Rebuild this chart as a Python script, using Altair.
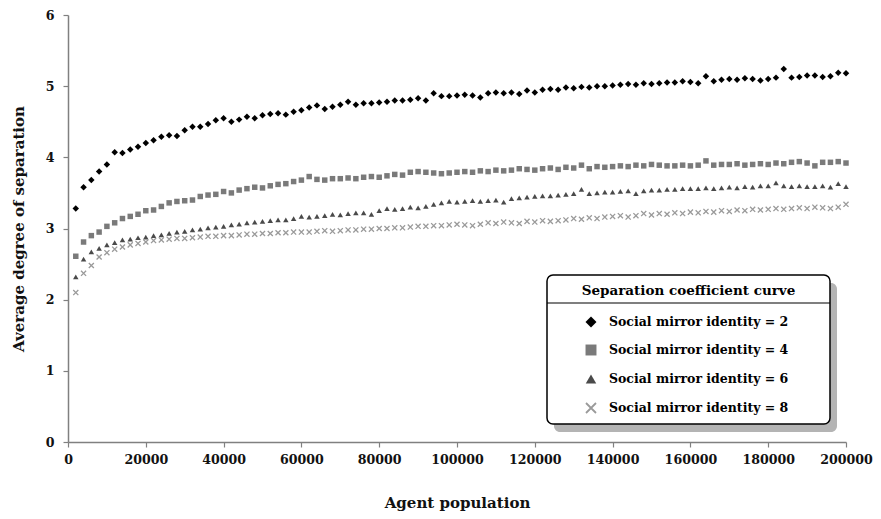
import altair as alt
import pandas as pd

population = list(range(2000, 200001, 2000))

identity_2 = [3.28, 3.58, 3.68, 3.80, 3.90, 4.07, 4.06, 4.11, 4.15, 4.20,
              4.24, 4.29, 4.31, 4.30, 4.38, 4.43, 4.43, 4.47, 4.52, 4.55,
              4.50, 4.53, 4.57, 4.55, 4.59, 4.61, 4.62, 4.60, 4.64, 4.66,
              4.70, 4.73, 4.68, 4.71, 4.74, 4.78, 4.74, 4.76, 4.76, 4.77,
              4.78, 4.80, 4.80, 4.81, 4.83, 4.80, 4.90, 4.86, 4.86, 4.87,
              4.88, 4.87, 4.84, 4.90, 4.91, 4.90, 4.91, 4.89, 4.94, 4.91,
              4.95, 4.96, 4.95, 4.98, 4.97, 4.99, 4.98, 5.00, 5.00, 5.01,
              5.02, 5.03, 5.02, 5.04, 5.03, 5.04, 5.05, 5.05, 5.07, 5.06,
              5.04, 5.14, 5.07, 5.09, 5.10, 5.09, 5.11, 5.10, 5.08, 5.10,
              5.12, 5.24, 5.12, 5.13, 5.15, 5.15, 5.13, 5.14, 5.19, 5.18]

identity_4 = [2.61, 2.81, 2.90, 2.95, 3.03, 3.08, 3.14, 3.17, 3.20, 3.25,
              3.26, 3.31, 3.36, 3.38, 3.39, 3.40, 3.45, 3.47, 3.48, 3.52,
              3.50, 3.54, 3.56, 3.58, 3.57, 3.60, 3.62, 3.63, 3.66, 3.68,
              3.73, 3.69, 3.68, 3.70, 3.70, 3.71, 3.70, 3.72, 3.73, 3.72,
              3.74, 3.76, 3.75, 3.79, 3.80, 3.79, 3.78, 3.77, 3.78, 3.79,
              3.80, 3.79, 3.81, 3.80, 3.82, 3.81, 3.82, 3.84, 3.83, 3.82,
              3.84, 3.85, 3.83, 3.86, 3.85, 3.89, 3.84, 3.87, 3.86, 3.87,
              3.88, 3.87, 3.89, 3.88, 3.90, 3.89, 3.88, 3.88, 3.89, 3.88,
              3.89, 3.95, 3.89, 3.90, 3.90, 3.91, 3.89, 3.90, 3.91, 3.90,
              3.92, 3.91, 3.93, 3.94, 3.92, 3.88, 3.93, 3.93, 3.94, 3.92]

identity_6 = [2.32, 2.57, 2.67, 2.72, 2.77, 2.80, 2.84, 2.85, 2.87, 2.88,
              2.90, 2.91, 2.93, 2.95, 2.96, 2.98, 2.99, 3.01, 3.02, 3.03,
              3.05, 3.06, 3.08, 3.09, 3.10, 3.11, 3.12, 3.12, 3.14, 3.17,
              3.16, 3.17, 3.18, 3.20, 3.19, 3.21, 3.22, 3.22, 3.20, 3.25,
              3.28, 3.27, 3.28, 3.30, 3.29, 3.31, 3.34, 3.36, 3.38, 3.37,
              3.38, 3.39, 3.38, 3.39, 3.40, 3.37, 3.42, 3.43, 3.44, 3.45,
              3.46, 3.46, 3.47, 3.48, 3.49, 3.55, 3.49, 3.50, 3.51, 3.51,
              3.52, 3.53, 3.49, 3.53, 3.54, 3.54, 3.55, 3.55, 3.56, 3.56,
              3.56, 3.57, 3.56, 3.57, 3.58, 3.57, 3.59, 3.58, 3.60, 3.60,
              3.64, 3.60, 3.59, 3.60, 3.59, 3.59, 3.60, 3.58, 3.63, 3.59]

identity_8 = [2.10, 2.37, 2.48, 2.60, 2.66, 2.71, 2.74, 2.77, 2.79, 2.81,
              2.83, 2.84, 2.85, 2.86, 2.86, 2.87, 2.88, 2.89, 2.89, 2.90,
              2.90, 2.91, 2.92, 2.92, 2.93, 2.93, 2.94, 2.94, 2.95, 2.95,
              2.95, 2.96, 2.97, 2.96, 2.97, 2.98, 2.98, 2.99, 2.99, 3.00,
              3.00, 3.01, 3.01, 3.02, 3.03, 3.03, 3.04, 3.04, 3.05, 3.06,
              3.05, 3.04, 3.06, 3.08, 3.07, 3.09, 3.08, 3.07, 3.10, 3.09,
              3.11, 3.10, 3.11, 3.12, 3.14, 3.13, 3.15, 3.14, 3.16, 3.17,
              3.18, 3.16, 3.18, 3.21, 3.19, 3.21, 3.20, 3.22, 3.21, 3.23,
              3.22, 3.24, 3.23, 3.25, 3.24, 3.26, 3.25, 3.27, 3.26, 3.27,
              3.28, 3.27, 3.28, 3.29, 3.28, 3.30, 3.29, 3.28, 3.30, 3.34]

series_labels = ["Social mirror identity = 2", "Social mirror identity = 4",
                 "Social mirror identity = 6", "Social mirror identity = 8"]
x_ticks = list(range(0, 200001, 20000))
y_ticks = [0, 1, 2, 3, 4, 5, 6]

FONT = "DejaVu Serif"
X_SHAPE = "M-1,-1L1,1M1,-1L-1,1"

styles = [
    dict(shape="diamond", filled=True, color="#000000", size=42, lsize=120),
    dict(shape="square", filled=True, color="#7a7a7a", size=30, lsize=120),
    dict(shape="triangle-up", filled=True, color="#4a4a4a", size=30, lsize=110),
    dict(shape=X_SHAPE, filled=False, color="#9a9a9a", size=26, lsize=100),
]

W, H = 778, 427
xscale = alt.Scale(domain=[0, 200000], nice=False, zero=True)
yscale = alt.Scale(domain=[0, 6], nice=False)

x_axis = alt.Axis(values=x_ticks, format="d", title="Agent population",
                  grid=False, tickSize=5, labelPadding=6, titlePadding=30,
                  labelOverlap=False, labelFlush=False)
y_axis = alt.Axis(values=y_ticks, title="Average degree of separation",
                  grid=False, tickSize=5, labelPadding=9, titlePadding=19,
                  labelOverlap=False, labelFlush=False)

frames = []
for i, vals in enumerate([identity_2, identity_4, identity_6, identity_8]):
    frames.append(pd.DataFrame({"population": population, "separation": vals,
                                "series": series_labels[i]}))

layers = []
for df, st in zip(frames, styles):
    mk = alt.Chart(df).mark_point(
        shape=st["shape"], filled=st["filled"], color=st["color"],
        size=st["size"], opacity=1, strokeWidth=1.3 if not st["filled"] else 0.5,
    ).encode(
        x=alt.X("population:Q", scale=xscale, axis=x_axis),
        y=alt.Y("separation:Q", scale=yscale, axis=y_axis),
    )
    layers.append(mk)

# legend drawn as a boxed panel
base = alt.Chart(pd.DataFrame({"k": [0]}))
LX0, LX1, LY0, LY1 = 479, 762, 260, 409
shadow = base.mark_rect(color="#b4b4b4", cornerRadius=6).encode(
    x=alt.value(LX0 + 7), x2=alt.value(LX1 + 7), y=alt.value(LY0 + 8), y2=alt.value(LY1 + 8))
box = base.mark_rect(fill="white", stroke="black", strokeWidth=1.5, cornerRadius=6).encode(
    x=alt.value(LX0), x2=alt.value(LX1), y=alt.value(LY0), y2=alt.value(LY1))
sep = base.mark_rule(color="black", strokeWidth=1.2).encode(
    x=alt.value(LX0), x2=alt.value(LX1), y=alt.value(288))
title = base.mark_text(text="Separation coefficient curve", font=FONT, fontWeight="bold",
                       fontSize=13.5, baseline="middle", align="center").encode(
    x=alt.value((LX0 + LX1) / 2), y=alt.value(276))
layers += [shadow, box, sep, title]

row_y = [307, 335, 364, 393]
for st, lab, ry in zip(styles, series_labels, row_y):
    sym = base.mark_point(shape=st["shape"], filled=st["filled"], color=st["color"],
                          size=st["lsize"], opacity=1,
                          strokeWidth=1.8 if not st["filled"] else 0.5).encode(
        x=alt.value(523), y=alt.value(ry))
    txt = base.mark_text(text=lab, font=FONT, fontWeight="bold", fontSize=12.5,
                         align="left", baseline="middle").encode(
        x=alt.value(541), y=alt.value(ry))
    layers += [sym, txt]

chart = alt.layer(*layers).resolve_scale(x="shared", y="shared").properties(
    width=W, height=H,
    autosize=alt.AutoSizeParams(type="none"),
    padding={"left": 60, "top": 7, "right": 27, "bottom": 76},
).configure_view(stroke=None).configure_axis(
    domainColor="#808080", tickColor="#808080", domainWidth=1.5, tickWidth=1.2,
    labelFont=FONT, labelFontWeight="bold", labelFontSize=12.6, labelColor="#111111",
    titleFont=FONT, titleFontWeight="bold", titleFontSize=15, titleColor="#111111",
)

chart.save("out.html", embed_options={"renderer": "svg", "actions": False})
